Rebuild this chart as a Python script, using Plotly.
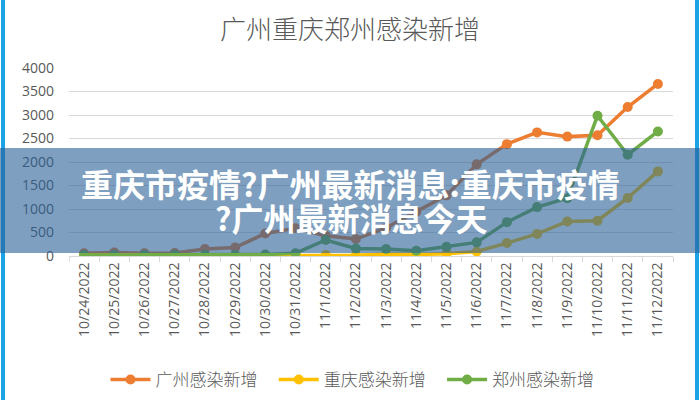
import plotly.graph_objects as go

dates = ["10/24/2022", "10/25/2022", "10/26/2022", "10/27/2022", "10/28/2022",
         "10/29/2022", "10/30/2022", "10/31/2022", "11/1/2022", "11/2/2022",
         "11/3/2022", "11/4/2022", "11/5/2022", "11/6/2022", "11/7/2022",
         "11/8/2022", "11/9/2022", "11/10/2022", "11/11/2022", "11/12/2022"]

guangzhou = [60, 75, 60, 65, 150, 180, 480, 590, 430, 360,
             600, 940, 1290, 1950, 2380, 2630, 2540, 2570, 3170, 3660]
chongqing = [5, 5, 5, 5, 5, 10, 10, 10, 20, 15,
             40, 30, 50, 95, 275, 470, 735, 750, 1235, 1800]
zhengzhou = [20, 20, 20, 20, 20, 20, 30, 60, 340, 160,
             150, 110, 195, 290, 720, 1040, 1230, 2985, 2155, 2650]

series_names = ["广州感染新增", "重庆感染新增", "郑州感染新增"]
series_colors = ["#ED7D31", "#FFC000", "#70AD47"]
y_ticks = [0, 500, 1000, 1500, 2000, 2500, 3000, 3500, 4000]

banner_line1 = "重庆市疫情?广州最新消息:重庆市疫情"
banner_line2 = "?广州最新消息今天"

W, H = 700, 400
ML, MR, MT, MB = 69, 27, 68, 144
PW, PH = W - ML - MR, H - MT - MB

def px(x):
    return (x - ML) / PW

def py(y):
    return (H - MB - y) / PH

fig = go.Figure()
for name, vals, col in zip(series_names, [guangzhou, chongqing, zhengzhou], series_colors):
    fig.add_trace(go.Scatter(
        x=dates, y=vals, name=name + "   ", mode="lines+markers",
        line=dict(color=col, width=3.5),
        marker=dict(color=col, size=10),
    ))

font_main = "Noto Sans CJK SC, Noto Sans, sans-serif"

fig.update_layout(
    width=W, height=H,
    margin=dict(l=ML, r=MR, t=MT, b=MB),
    paper_bgcolor="white", plot_bgcolor="white",
    font=dict(family=font_main, color="#595959"),
    title=dict(text="广州重庆郑州感染新增", x=0.5, xref="container", xanchor="center",
               y=1 - 30 / H, yref="container", yanchor="middle",
               font=dict(size=26, color="#595959", family="Noto Sans CJK SC Light, Noto Sans CJK SC")),
    showlegend=True,
    legend=dict(orientation="h", xref="container", yref="container",
                x=358 / W, xanchor="center", y=1 - 380 / H, yanchor="middle",
                font=dict(size=17, color="#595959", family="Noto Sans CJK SC Light, Noto Sans CJK SC"),
                itemwidth=40, tracegroupgap=0),
    xaxis=dict(type="category", range=[-0.5, len(dates) - 0.5],
               tickangle=-90, tickfont=dict(size=14, color="#595959", family="Open Sans, sans-serif"),
               showline=True, linecolor="#D9D9D9", linewidth=1,
               ticks="outside", tickson="boundaries", ticklen=5, tickcolor="#D9D9D9",
               showgrid=False, fixedrange=True),
    yaxis=dict(range=[0, 4000], tickvals=y_ticks, ticktext=[str(v) for v in y_ticks],
               tickfont=dict(size=14, color="#595959", family="Open Sans, sans-serif"),
               showgrid=True, gridcolor="#D9D9D9", gridwidth=1, zeroline=False,
               showline=False, ticks="", ticklabelstandoff=14, fixedrange=True),
)

# side frame bars
fig.add_shape(type="rect", xref="paper", yref="paper", x0=px(1), x1=px(5), y0=py(400), y1=py(0),
              fillcolor="#1CA3E6", line=dict(width=0), layer="above")
fig.add_shape(type="rect", xref="paper", yref="paper", x0=px(695), x1=px(699), y0=py(400), y1=py(0),
              fillcolor="#1CA3E6", line=dict(width=0), layer="above")

# overlay banner
fig.add_shape(type="rect", xref="paper", yref="paper", x0=px(0), x1=px(700), y0=py(253), y1=py(148),
              fillcolor="rgb(40,95,150)", opacity=0.6, line=dict(width=0), layer="above")
fig.add_annotation(xref="paper", yref="paper", x=px(350), y=py(183), xanchor="center", yanchor="middle",
                   text="<b>" + banner_line1 + "</b>", showarrow=False,
                   font=dict(size=32, color="white", family="Noto Sans CJK SC"))
fig.add_annotation(xref="paper", yref="paper", x=px(351), y=py(217), xanchor="center", yanchor="middle",
                   text="<b>" + banner_line2 + "</b>", showarrow=False,
                   font=dict(size=32, color="white", family="Noto Sans CJK SC"))

fig.write_html("out.html", config={"displayModeBar": False},
               post_script="document.body.style.margin='0';document.body.style.padding='0';")
